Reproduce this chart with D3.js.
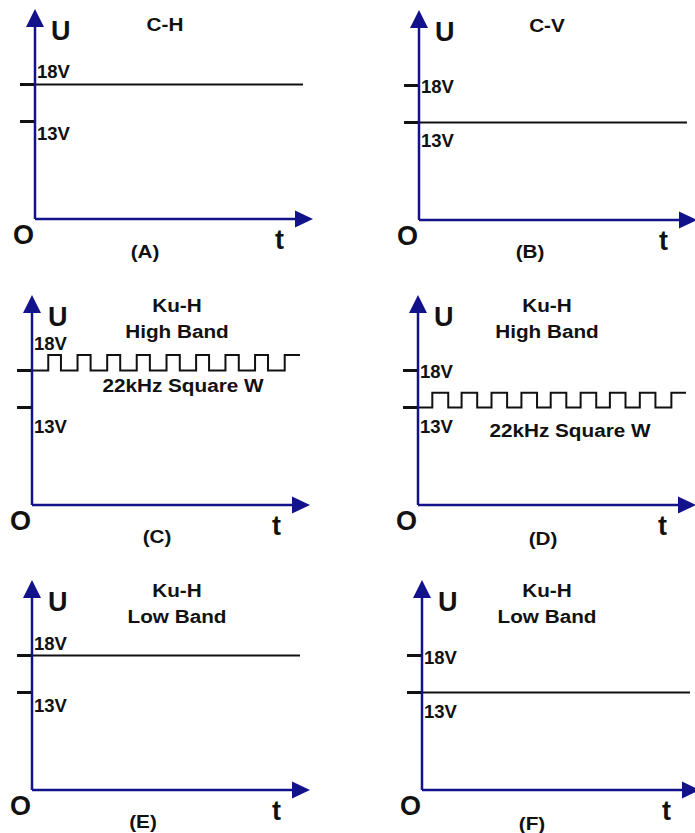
<!DOCTYPE html>
<html>
<head>
<meta charset="utf-8">
<script src="https://cdn.jsdelivr.net/npm/d3@7"></script>
<style>
  body { margin: 0; background: #fff; }
  text { font-family: "Liberation Sans", Arial, sans-serif; font-weight: bold; fill: #111; }
</style>
</head>
<body>
<div class="chart-container"></div>
<script>
const width = 695, height = 833;

// ---- data ----
const panelIds = ["A", "B", "C", "D", "E", "F"];
const panelTitles = [["C-H"], ["C-V"], ["Ku-H", "High Band"], ["Ku-H", "High Band"], ["Ku-H", "Low Band"], ["Ku-H", "Low Band"]];
const tickVolts = [13, 18];
const tickLabels = ["13V", "18V"];
const baseLevels = [18, 13, 18, 13, 18, 13];     // DC level of the LNB supply
const toneHigh = [null, null, 20.1, 15.0, null, null]; // top of the 22kHz tone, volts
// edge times of the 22kHz tone (us), alternating rise / fall
const toneEdgesC = [25, 44.5, 70, 90.1, 115.6, 135.6, 161, 181.2, 206.8, 227.2, 252.3, 272.2, 297.4, 317.9, 342.9, 362.8, 388.5];
const toneEdgesD = [22, 46.5, 67, 91, 113, 137, 159, 183, 204, 228, 250, 274, 295, 319, 341, 365, 389.5];
const toneEdges = [null, null, toneEdgesC, toneEdgesD, null, null];
const toneLabel = "22kHz Square W";
const timeEnd = 412;

// ---- layout (origin of each panel + label offsets) ----
const layout = [
  {ox: 35,  oy: 219, titleX: 130, lab18: -141, lab13: -79, capX: 110, capY: 39},
  {ox: 419, oy: 220, titleX: 128, lab18: -127, lab13: -73, capX: 111, capY: 38},
  {ox: 32,  oy: 505, titleX: 145, lab18: -155, lab13: -72, capX: 125, capY: 38, toneX: 151, toneY: -113},
  {ox: 418, oy: 505, titleX: 129, lab18: -127, lab13: -72, capX: 125, capY: 40, toneX: 152, toneY: -68},
  {ox: 32,  oy: 790, titleX: 145, lab18: -140, lab13: -78, capX: 111, capY: 38},
  {ox: 422, oy: 790, titleX: 125, lab18: -126, lab13: -72, capX: 110, capY: 40}
];

const axisColor = "#12128a";
const smallFont = "18.5px", bigFont = "27px";
const stretch = 1.12; // the source lettering is a bit wide

var svg = d3.select(".chart-container")
    .append("svg")
    .attr("width", width)
    .attr("height", height)
    .attr("viewBox", [0, 0, width, height]);

// same scales inside every panel (local coords, origin at axis corner)
var x = d3.scaleLinear().domain([0, timeEnd]).range([0, 268]);
var y = d3.scaleLinear().domain([13, 18]).range([-97.5, -134.5]);

var line = d3.line()
    .x(d => x(d[0]))
    .y(d => y(d[1]))
    .curve(d3.curveStepAfter);

function wideText(g, tx, ty, s) {
    return g.append("text")
        .attr("transform", "translate(" + tx + "," + ty + ") scale(" + stretch + ",1)")
        .attr("text-anchor", "middle")
        .style("font-size", smallFont)
        .text(s);
}

panelIds.forEach((id, i) => {
    var L = layout[i];
    var g = svg.append("g").attr("transform", "translate(" + L.ox + "," + L.oy + ")");

    // tick marks on the U axis
    g.selectAll("line.tick")
        .data(tickVolts)
        .enter()
        .append("line")
        .attr("class", "tick")
        .attr("x1", -15).attr("x2", 0)
        .attr("y1", d => y(d)).attr("y2", d => y(d))
        .attr("stroke", "#111")
        .attr("stroke-width", 3);

    // signal
    var low = baseLevels[i];
    var pts = [[0, low]];
    if (toneEdges[i]) {
        toneEdges[i].forEach((t, k) => pts.push([t, k % 2 == 0 ? toneHigh[i] : low]));
    }
    pts.push([timeEnd, pts[pts.length - 1][1]]);
    g.append("path")
        .attr("d", line(pts))
        .attr("fill", "none")
        .attr("stroke", "#111")
        .attr("stroke-width", 2);

    // axes
    g.append("line").attr("x1", 0).attr("y1", 0).attr("x2", 0).attr("y2", -194)
        .attr("stroke", axisColor).attr("stroke-width", 2.5);
    g.append("line").attr("x1", 0).attr("y1", 0).attr("x2", 262).attr("y2", 0)
        .attr("stroke", axisColor).attr("stroke-width", 2.5);
    g.append("path").attr("d", "M0,-210L-9,-192L9,-192Z").attr("fill", axisColor);
    g.append("path").attr("d", "M278,0L260,-8.5L260,8.5Z").attr("fill", axisColor);

    // axis letters
    g.append("text").attr("x", 16).attr("y", -179).style("font-size", bigFont).text("U");
    g.append("text").attr("x", -1).attr("y", 25).attr("text-anchor", "end").style("font-size", bigFont).text("O");
    g.append("text").attr("x", 240).attr("y", 30).style("font-size", bigFont).text("t");

    // voltage labels
    g.append("text").attr("x", 2).attr("y", L.lab18).style("font-size", smallFont).text(tickLabels[1]);
    g.append("text").attr("x", 2).attr("y", L.lab13).style("font-size", smallFont).text(tickLabels[0]);

    // title
    var lines = panelTitles[i];
    var top = lines.length == 1 ? -188 : -193;
    lines.forEach((s, k) => wideText(g, L.titleX, top + k * 26, s));

    if (toneEdges[i]) wideText(g, L.toneX, L.toneY, toneLabel);

    // caption
    wideText(g, L.capX, L.capY, "(" + id + ")");
});
</script>
</body>
</html>
